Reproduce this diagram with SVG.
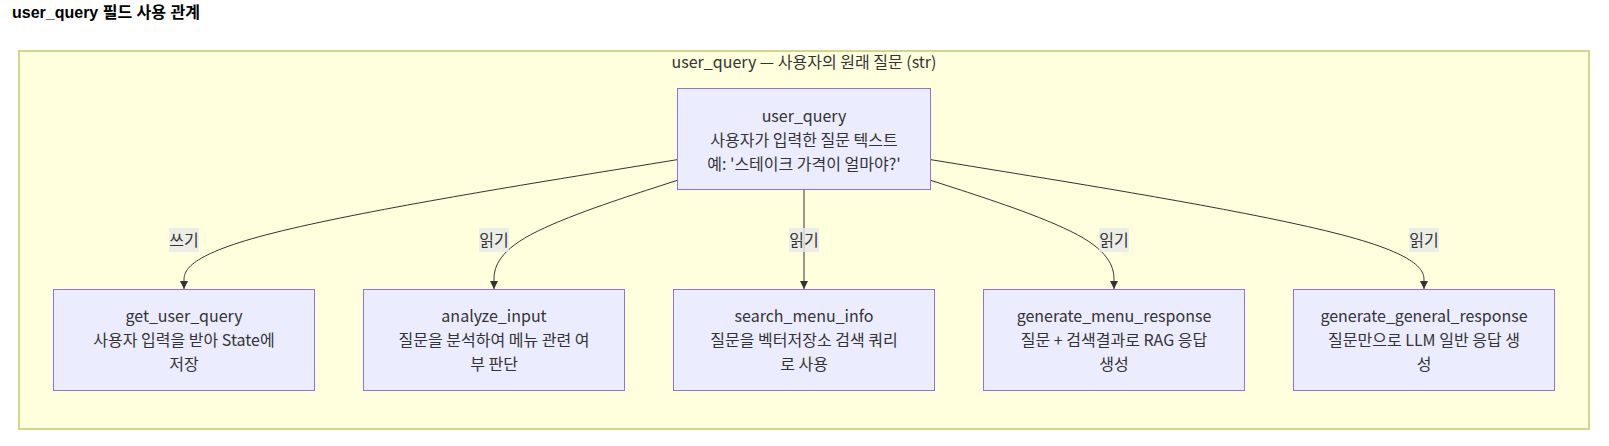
<svg xmlns="http://www.w3.org/2000/svg" width="1609" height="446" viewBox="0 0 1609 446">
  <defs>
    <marker id="arrow" viewBox="0 0 10 10" refX="10" refY="5" markerUnits="userSpaceOnUse" markerWidth="8" markerHeight="8" orient="auto">
      <path d="M0,0 L10,5 L0,10 z" fill="#333333"/>
    </marker>
  </defs>
  <style>
    .title { font-family: "Liberation Sans", "Noto Sans CJK KR", sans-serif; font-size: 16px; font-weight: bold; fill: #000000; }
    .cluster { fill: #ffffde; stroke: #d4d48b; stroke-width: 2; }
    .clabel { font-family: "Noto Sans CJK KR", "Noto Sans", sans-serif; font-size: 16px; fill: #333333; text-anchor: middle; }
    .node rect { fill: #ececff; stroke: #9370db; stroke-width: 1; }
    .node text { font-family: "Noto Sans CJK KR", "Noto Sans", sans-serif; font-size: 16px; fill: #333333; text-anchor: middle; }
    .edge { fill: none; stroke: #333333; stroke-width: 1; marker-end: url(#arrow); }
    .elabel rect { fill: rgba(232,232,232,0.8); }
    .elabel text { font-family: "Noto Sans CJK KR", "Noto Sans", sans-serif; font-size: 16px; fill: #333333; text-anchor: middle; }
  </style>
  <rect width="1609" height="446" fill="#ffffff"/>
  <text class="title" x="12" y="18">user_query 필드 사용 관계</text>

  <g id="cluster_user_query">
    <rect class="cluster" x="19" y="51" width="1570" height="378"/>
    <text class="clabel" x="804" y="67.5">user_query — 사용자의 원래 질문 (str)</text>
  </g>

  <g id="connectors">
    <path class="edge" d="M677,159.7 L594.8,173.1 C512.7,186.5 348.3,213.2 266.2,234.8 C184,256.3 184,272.7 184,280.8 L184,289"/>
    <path class="edge" d="M677,180.4 L646.5,190.3 C616,200.3 555,220.1 524.5,238.2 C494,256.3 494,272.7 494,280.8 L494,289"/>
    <path class="edge" d="M804,190 L804,289"/>
    <path class="edge" d="M931,180.4 L961.5,190.3 C992,200.3 1053,220.1 1083.5,238.2 C1114,256.3 1114,272.7 1114,280.8 L1114,289"/>
    <path class="edge" d="M931,159.7 L1013.2,173.1 C1095.3,186.5 1259.7,213.2 1341.8,234.8 C1424,256.3 1424,272.7 1424,280.8 L1424,289"/>
    <g class="elabel"><rect x="169" y="228" width="30" height="24"/><text x="184" y="245.5">쓰기</text></g>
    <g class="elabel"><rect x="479" y="228" width="30" height="24"/><text x="494" y="245.5">읽기</text></g>
    <g class="elabel"><rect x="789" y="228" width="30" height="24"/><text x="804" y="245.5">읽기</text></g>
    <g class="elabel"><rect x="1099" y="228" width="30" height="24"/><text x="1114" y="245.5">읽기</text></g>
    <g class="elabel"><rect x="1409" y="228" width="30" height="24"/><text x="1424" y="245.5">읽기</text></g>
  </g>

  <g id="node_user_query" class="node">
    <rect x="677.5" y="88.5" width="253" height="101"/>
    <text x="804" y="121.5">user_query</text>
    <text x="804" y="145.5">사용자가 입력한 질문 텍스트</text>
    <text x="804" y="169.5">예: '스테이크 가격이 얼마야?'</text>
  </g>

  <g id="node_get_user_query" class="node">
    <rect x="53.5" y="289.5" width="261" height="101"/>
    <text x="184" y="322">get_user_query</text>
    <text x="184" y="346">사용자 입력을 받아 State에</text>
    <text x="184" y="370">저장</text>
  </g>

  <g id="node_analyze_input" class="node">
    <rect x="363.5" y="289.5" width="261" height="101"/>
    <text x="494" y="322">analyze_input</text>
    <text x="494" y="346">질문을 분석하여 메뉴 관련 여</text>
    <text x="494" y="370">부 판단</text>
  </g>

  <g id="node_search_menu_info" class="node">
    <rect x="673.5" y="289.5" width="261" height="101"/>
    <text x="804" y="322">search_menu_info</text>
    <text x="804" y="346">질문을 벡터저장소 검색 쿼리</text>
    <text x="804" y="370">로 사용</text>
  </g>

  <g id="node_generate_menu_response" class="node">
    <rect x="983.5" y="289.5" width="261" height="101"/>
    <text x="1114" y="322">generate_menu_response</text>
    <text x="1114" y="346">질문 + 검색결과로 RAG 응답</text>
    <text x="1114" y="370">생성</text>
  </g>

  <g id="node_generate_general_response" class="node">
    <rect x="1293.5" y="289.5" width="261" height="101"/>
    <text x="1424" y="322">generate_general_response</text>
    <text x="1424" y="346">질문만으로 LLM 일반 응답 생</text>
    <text x="1424" y="370">성</text>
  </g>
</svg>
